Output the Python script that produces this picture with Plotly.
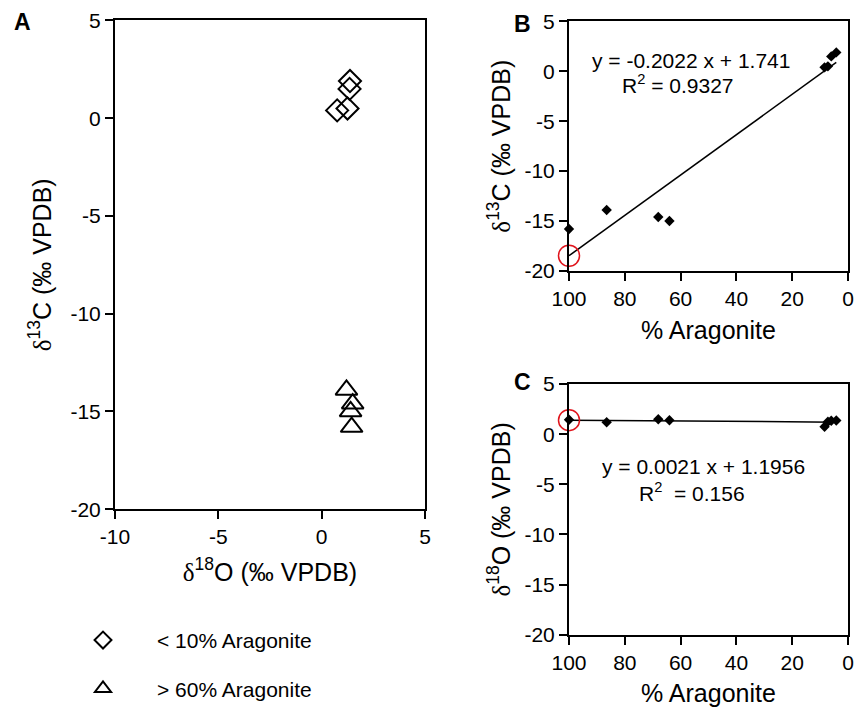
import plotly.graph_objects as go

# ---- data ----
aragonite_pct = [100, 86.5, 68, 64, 8.4, 7.2, 6.0, 4.2]
d13C = [-15.8, -13.9, -14.6, -15.0, 0.4, 0.5, 1.5, 1.9]
d18O = [1.45, 1.2, 1.5, 1.4, 0.75, 1.25, 1.35, 1.37]

fit_c_slope, fit_c_intercept = -0.2022, 1.741
fit_o_slope, fit_o_intercept = 0.0021, 1.1956

eq_c = ["y = -0.2022 x + 1.741", "R<sup>2</sup> = 0.9327"]
eq_o = ["y = 0.0021 x + 1.1956", "R<sup>2</sup>  = 0.156"]

legend_names = ["< 10% Aragonite", "> 60% Aragonite"]

iso_ticks = [-20, -15, -10, -5, 0, 5]
iso_ticktext = ["-20", "-15", "-10", "-5", "0", "5"]
o18_ticks = [-10, -5, 0, 5]
o18_ticktext = ["-10", "-5", "0", "5"]
arag_ticks = [100, 80, 60, 40, 20, 0]
arag_ticktext = ["100", "80", "60", "40", "20", "0"]

FONT = "Arial, Liberation Sans, sans-serif"
DELTA = '<span style="font-family:Liberation Serif, Times New Roman, serif">δ</span>'
title_c13 = DELTA + "<sup>13</sup>C (‰ VPDB)"
title_o18 = DELTA + "<sup>18</sup>O (‰ VPDB)"

low = [i for i, a in enumerate(aragonite_pct) if a < 10]
high = [i for i, a in enumerate(aragonite_pct) if a > 60]

W, H = 855, 709
def px(x):
    return x / W
def py(y):
    return 1 - y / H

fig = go.Figure()

# Panel A
fig.add_trace(go.Scatter(x=[d18O[i] for i in low], y=[d13C[i] for i in low], mode="markers",
                         marker=dict(symbol="diamond-open", size=17, color="black", line=dict(width=2, color="black")),
                         xaxis="x", yaxis="y", showlegend=False, cliponaxis=False))
fig.add_trace(go.Scatter(x=[d18O[i] for i in high], y=[d13C[i] for i in high], mode="markers",
                         marker=dict(symbol="triangle-up-open", size=19, color="black", line=dict(width=2, color="black")),
                         xaxis="x", yaxis="y", showlegend=False, cliponaxis=False))
# legend entries
fig.add_trace(go.Scatter(x=[None], y=[None], mode="markers", name=legend_names[0], legendgroup="a",
                         marker=dict(symbol="diamond-open", size=13, color="black", line=dict(width=2, color="black")),
                         xaxis="x", yaxis="y"))
fig.add_trace(go.Scatter(x=[None], y=[None], mode="markers", name=legend_names[1], legendgroup="b",
                         marker=dict(symbol="triangle-up-open", size=14, color="black", line=dict(width=2, color="black")),
                         xaxis="x", yaxis="y"))

# Panel B
xl = [max(aragonite_pct), min(aragonite_pct)]
fig.add_trace(go.Scatter(x=xl, y=[fit_c_slope * v + fit_c_intercept for v in xl], mode="lines",
                         line=dict(color="black", width=1.5), xaxis="x2", yaxis="y2", showlegend=False, cliponaxis=False))
fig.add_trace(go.Scatter(x=aragonite_pct, y=d13C, mode="markers",
                         marker=dict(symbol="diamond", size=8, color="black"),
                         xaxis="x2", yaxis="y2", showlegend=False, cliponaxis=False))
fig.add_trace(go.Scatter(x=[xl[0]], y=[fit_c_slope * xl[0] + fit_c_intercept], mode="markers",
                         marker=dict(symbol="circle-open", size=21, color="#e0141c", line=dict(width=1.5, color="#e0141c")),
                         xaxis="x2", yaxis="y2", showlegend=False, cliponaxis=False))

# Panel C
fig.add_trace(go.Scatter(x=xl, y=[fit_o_slope * v + fit_o_intercept for v in xl], mode="lines",
                         line=dict(color="black", width=1.5), xaxis="x3", yaxis="y3", showlegend=False, cliponaxis=False))
fig.add_trace(go.Scatter(x=aragonite_pct, y=d18O, mode="markers",
                         marker=dict(symbol="diamond", size=8, color="black"),
                         xaxis="x3", yaxis="y3", showlegend=False, cliponaxis=False))
fig.add_trace(go.Scatter(x=[xl[0]], y=[fit_o_slope * xl[0] + fit_o_intercept], mode="markers",
                         marker=dict(symbol="circle-open", size=21, color="#e0141c", line=dict(width=1.5, color="#e0141c")),
                         xaxis="x3", yaxis="y3", showlegend=False, cliponaxis=False))

axis_common = dict(showline=True, linewidth=2, linecolor="black", mirror=True, ticks="outside",
                   ticklen=8, tickwidth=2, tickcolor="black", showgrid=False, zeroline=False,
                   tickfont=dict(family=FONT, size=21, color="black"), automargin=False,
                   ticklabeloverflow="allow",
                   title_font=dict(family=FONT, size=25, color="black"))

fig.update_layout(
    width=W, height=H, margin=dict(l=0, r=0, t=0, b=0),
    paper_bgcolor="white", plot_bgcolor="white",
    font=dict(family=FONT, color="black"),
    xaxis=dict(domain=[px(115), px(425)], range=[-10, 5], tickvals=o18_ticks, ticktext=o18_ticktext,
               title=dict(text=title_o18, standoff=16), anchor="y", **axis_common),
    yaxis=dict(domain=[py(515), py(20.7)], range=[-20, 5], tickvals=iso_ticks, ticktext=iso_ticktext,
               title=dict(text=title_c13, standoff=12), anchor="x", **axis_common),
    xaxis2=dict(domain=[px(569), px(848)], range=[100, 0], tickvals=arag_ticks, ticktext=arag_ticktext,
                title=dict(text="% Aragonite", standoff=12), anchor="y2", **axis_common),
    yaxis2=dict(domain=[py(274), py(21.7)], range=[-20, 5], tickvals=iso_ticks, ticktext=iso_ticktext,
                title=dict(text=title_c13, standoff=7), anchor="x2", **axis_common),
    xaxis3=dict(domain=[px(569), px(848)], range=[100, 0], tickvals=arag_ticks, ticktext=arag_ticktext,
                title=dict(text="% Aragonite", standoff=12), anchor="y3", **axis_common),
    yaxis3=dict(domain=[py(642), py(388.5)], range=[-20, 5], tickvals=iso_ticks, ticktext=iso_ticktext,
                title=dict(text=title_o18, standoff=7), anchor="x3", **axis_common),
    legend=dict(x=px(49), y=py(627), xanchor="left", yanchor="top", itemwidth=98,
                tracegroupgap=18, font=dict(family=FONT, size=21, color="black"),
                bgcolor="rgba(0,0,0,0)"),
)

ann = []
for letter, x, y in [("A", 12, 22), ("B", 512, 24), ("C", 512, 386)]:
    ann.append(dict(text="<b>%s</b>" % letter, x=px(x), y=py(y), xref="paper", yref="paper",
                    xanchor="left", yanchor="middle", showarrow=False,
                    font=dict(family=FONT, size=23, color="black")))
for txt, x, y in [(eq_c[0], 691, 61), (eq_c[1], 678, 85), (eq_o[0], 703, 472), (eq_o[1], 692, 498)]:
    ann.append(dict(text=txt, x=px(x), y=py(y), xref="paper", yref="paper",
                    xanchor="center", yanchor="middle", showarrow=False,
                    font=dict(family=FONT, size=21, color="black")))
fig.update_layout(annotations=ann)

# let the figure fill the window exactly (no default page margin), no mode bar
fig.write_html("out.html", config={"displayModeBar": False},
               post_script="document.body.style.margin='0';document.body.style.overflow='hidden';")
